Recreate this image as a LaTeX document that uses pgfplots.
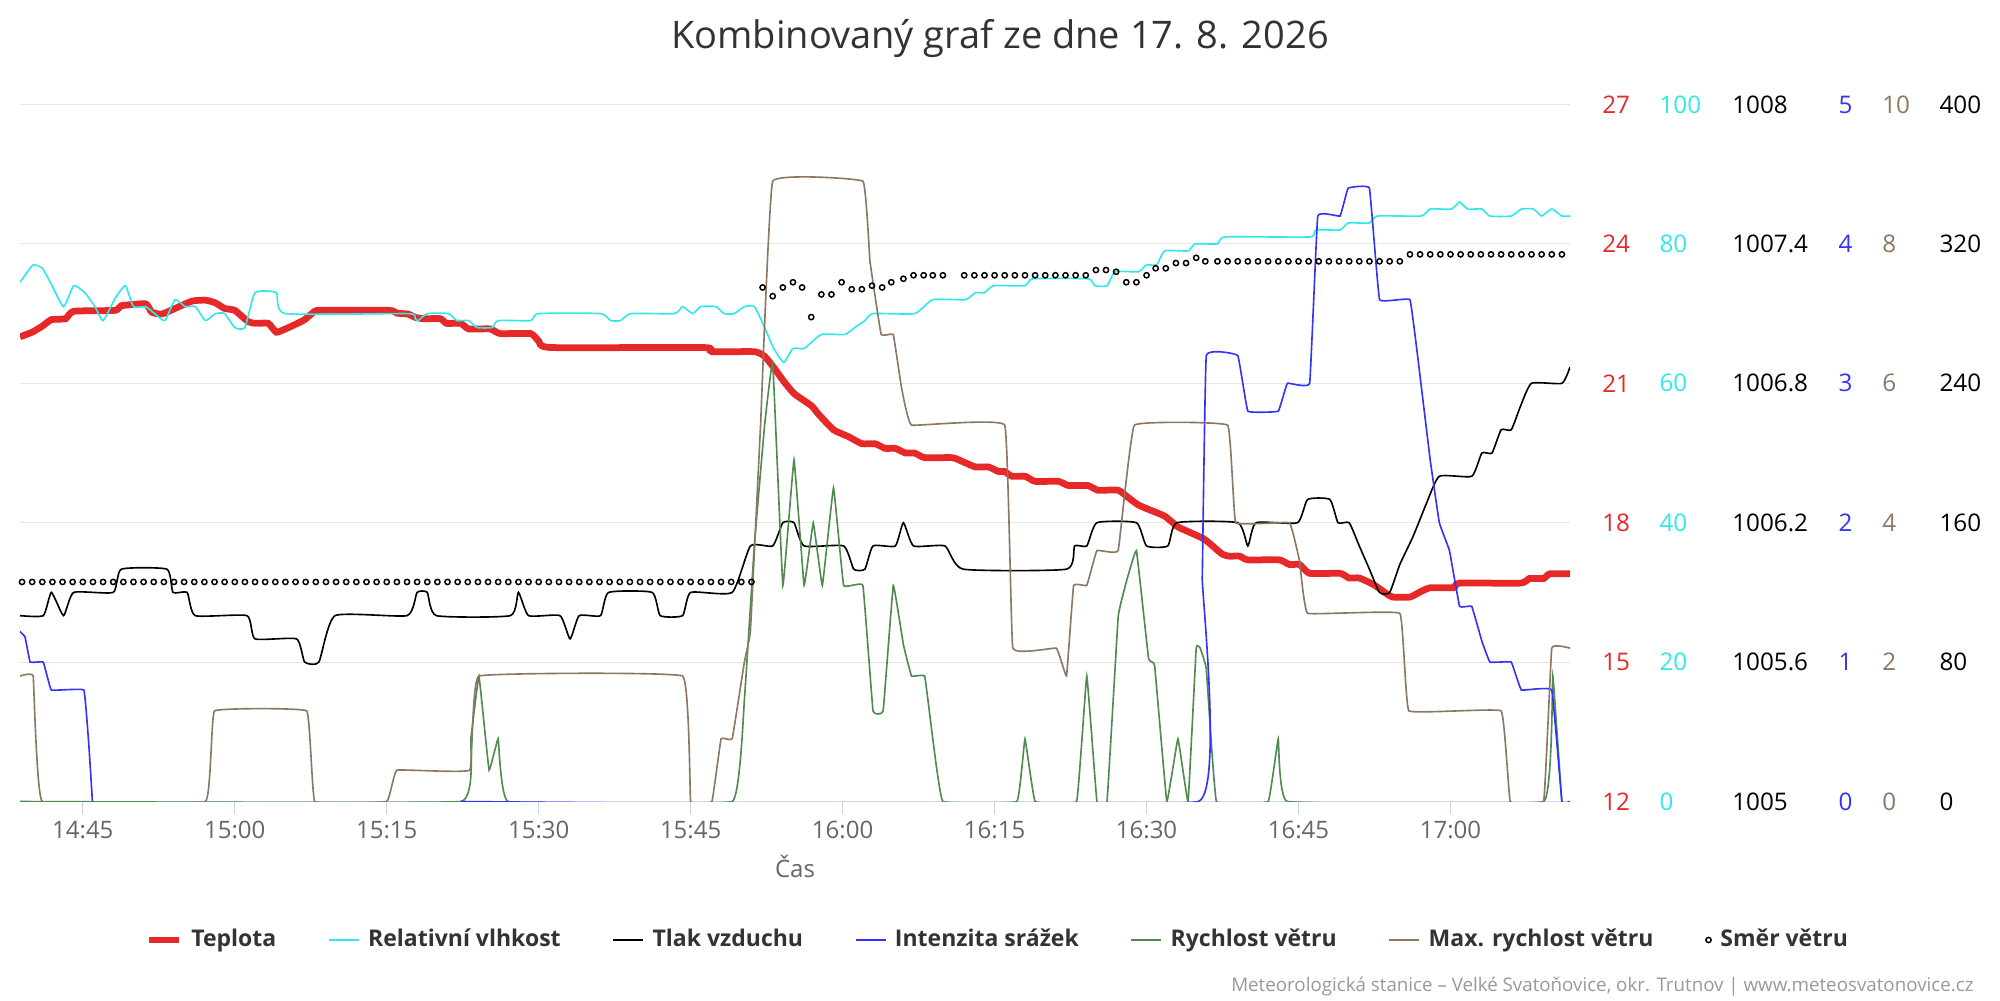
\documentclass[border=0pt]{standalone}
\usepackage{pgfplots}
\pgfplotsset{compat=1.18}
\usepackage{fontspec}
\setmainfont{Open Sans}
\definecolor{cTemp}{HTML}{E62828}
\definecolor{cHum}{HTML}{30E8EC}
\definecolor{cRain}{HTML}{3333F5}
\definecolor{cWind}{HTML}{4F8A4F}
\definecolor{cGust}{HTML}{8B7763}
\definecolor{cGrid}{HTML}{E6E6E6}
\definecolor{cAxis}{HTML}{CCD6EB}
\definecolor{cText}{HTML}{333333}
\definecolor{cLabel}{HTML}{666666}
\definecolor{cCredit}{HTML}{999999}

\pgfplotsset{
  base/.style={scale only axis, width=620pt, height=278.8pt,
    at={(8pt,79.4pt)}, anchor=south west, xmin=38.8, xmax=191.8, scaled y ticks=false},
  sec/.style={base, axis line style={draw=none}, xtick=\empty,
    ytick style={draw=none}, yticklabel pos=right,
    yticklabel style={anchor=west, inner sep=0pt, font=\fontsize{9.7}{11}\selectfont}},
  ln/.style={line width=0.65pt, smooth, tension=0.3},
  lns/.style={line width=0.65pt, smooth, tension=0.12},
}

\begin{document}
\begin{tikzpicture}
\useasboundingbox (0,0) rectangle (800pt,400pt);
% ---------- temperature (main axis) ----------
\begin{axis}[base, ymin=12, ymax=27,
  axis x line*=bottom, axis y line*=right,
  x axis line style={draw=cAxis, line width=0.4pt},
  y axis line style={draw=none},
  xtick={45,60,...,180},
  xticklabels={14:45,15:00,15:15,15:30,15:45,16:00,16:15,16:30,16:45,17:00},
  xtick align=outside, ytick align=inside,
  major tick length=5pt,
  xtick style={draw=cAxis, line width=0.4pt},
  xticklabel style={anchor=base, inner sep=0pt, yshift=-9.8pt, text=cLabel, font=\fontsize{9.6}{11}\selectfont},
  ytick={12,15,18,21,24,27}, yticklabels={12,15,18,21,24,27},
  ytick style={draw=none},
  yticklabel style={anchor=west, inner sep=0pt, xshift=12.7pt, text=cTemp, font=\fontsize{9.7}{11}\selectfont},
  ymajorgrids, grid style={cGrid, line width=0.4pt},
  legend columns=7,
  legend style={at={(0.6303,-0.1987)}, anchor=center, draw=none, fill=none,
    inner sep=0pt, nodes={inner sep=0pt, text=cText}, font=\bfseries\fontsize{9.2}{11}\selectfont,
    /tikz/every odd column/.append style={column sep=3.4pt},
    /tikz/every even column/.append style={column sep=20.7pt}},
  legend image code/.code={\draw[#1] (0pt,0pt) -- (12pt,0pt);},
]
\addplot[cTemp, line width=2.7pt, smooth, tension=0.3] coordinates {
(38.8,22.0) (40.0,22.1) (41.0,22.23) (41.9,22.37) (43.3,22.39) (44.1,22.55) (48.2,22.57) (48.8,22.67) (51.2,22.71) (51.8,22.53) (52.8,22.49) (54.1,22.61) (55.8,22.77) (57.1,22.79) (58.1,22.73) (59.0,22.61) (60.0,22.57) (61.3,22.33) (62.0,22.29) (63.3,22.29) (64.1,22.10) (65.0,22.17) (66.0,22.27) (66.9,22.37) (67.9,22.55) (68.6,22.57) (75.2,22.57) (76.0,22.51) (77.1,22.49) (77.8,22.42) (78.6,22.39) (80.3,22.39) (80.9,22.29) (82.3,22.29) (83.1,22.17) (85.2,22.17) (86.2,22.07) (89.2,22.07) (90.0,21.91) (91.2,21.77) (106.3,21.77) (107.1,21.68) (111.3,21.68) (112.3,21.58) (113.2,21.34) (114.2,21.04) (115.2,20.78) (116.9,20.52) (117.6,20.34) (119.1,20.0) (120.6,19.85) (121.9,19.70) (123.2,19.70) (124.2,19.60) (125.2,19.60) (126.2,19.50) (127.1,19.50) (128.1,19.40) (130.8,19.40) (131.7,19.33) (133.1,19.20) (134.4,19.20) (135.4,19.10) (136.0,19.10) (136.7,19.0) (138.0,19.0) (139.0,18.89) (141.3,18.89) (142.3,18.80) (144.2,18.80) (145.2,18.70) (147.2,18.70) (148.2,18.54) (149.2,18.38) (150.5,18.26) (151.8,18.14) (153.1,17.91) (154.1,17.81) (155.6,17.66) (156.2,17.56) (157.5,17.32) (158.2,17.28) (159.2,17.28) (160.0,17.20) (163.1,17.20) (164.1,17.10) (165.1,17.10) (166.1,16.91) (169.1,16.91) (170.0,16.81) (171.0,16.81) (172.4,16.67) (173.7,16.47) (174.3,16.40) (176.0,16.40) (177.0,16.51) (178.0,16.60) (180.3,16.60) (180.9,16.70) (186.9,16.70) (187.8,16.80) (189.2,16.80) (189.8,16.90) (191.8,16.90)
};
\addlegendentry{Teplota}
\addlegendimage{cHum, line width=0.65pt}\addlegendentry{Relativní vlhkost}
\addlegendimage{black, line width=0.65pt}\addlegendentry{Tlak vzduchu}
\addlegendimage{cRain, line width=0.65pt}\addlegendentry{Intenzita srážek}
\addlegendimage{cWind, line width=0.65pt}\addlegendentry{Rychlost větru}
\addlegendimage{cGust, line width=0.65pt}\addlegendentry{Max. rychlost větru}
\addlegendimage{black, legend image code/.code={\draw[black, line width=0.6pt] (6pt,0pt) circle (1.05pt);}}\addlegendentry{Směr větru}
\end{axis}
% ---------- humidity ----------
\begin{axis}[sec, ymin=0, ymax=100, ytick={0,20,40,60,80,100}, yticklabels={0,20,40,60,80,100},
  yticklabel style={xshift=35.6pt, text=cHum}]
\addplot[cHum, ln] coordinates {
(38.8,74.5) (39.3,75.5) (40.1,77) (41.0,76.5) (41.9,74.2) (43.1,71) (44.1,74) (45.2,73) (46.2,71) (47.0,69) (48.2,72.2) (49.2,74) (50.0,71) (51.2,71) (52.1,70) (53.1,69) (54.1,72) (55.1,71) (56.1,71) (57.1,69) (58.1,70) (59.0,70) (60.0,68) (61.0,68) (62.0,73) (64.1,73) (65.0,70) (77.1,70) (77.8,69.3) (78.1,69) (79.0,70) (81.1,70) (81.9,69) (83.1,69) (83.9,68) (85.4,68) (86.0,69) (89.2,69) (90.0,70) (96.1,70) (97.1,69) (98.1,69) (99.1,70) (103.4,70) (104.2,71) (105.2,70) (106.0,71) (107.5,71) (108.3,70) (109.3,70) (110.3,71) (111.3,71) (112.3,68) (113.2,65) (114.2,63) (115.1,65) (116.2,65) (117.9,67) (120.2,67) (121.2,68) (122.2,69) (123.0,70) (127.1,70) (128.9,72) (132.1,72) (133.1,73) (134.0,73) (134.9,74) (138.0,74) (138.8,75) (144.2,75) (144.9,74) (146.1,74) (146.9,76) (149.2,76) (150.0,77) (151.0,77) (151.8,79) (154.1,79) (154.8,80) (157.0,80) (157.8,81) (166.1,81) (166.7,82) (169.1,82) (169.9,83) (172.0,83) (172.8,84) (177.1,84) (178.0,85) (180.1,85) (180.9,86) (181.7,85) (183.1,85) (183.9,84) (186.0,84) (187.0,85) (188.2,85) (189.0,84) (190.0,85) (191.0,84) (191.8,84)
};
\end{axis}
% ---------- pressure ----------
\begin{axis}[sec, ymin=1005, ymax=1008, ytick={1005,1005.6,1006.2,1006.8,1007.4,1008},
  yticklabels={1005,1005.6,1006.2,1006.8,1007.4,1008},
  yticklabel style={xshift=64.7pt, text=black}]
\addplot[black, ln] coordinates {
(38.8,1005.8) (41.1,1005.8) (41.9,1005.9) (43.1,1005.8) (44.1,1005.9) (48.0,1005.9) (48.8,1006.0) (53.3,1006.0) (53.9,1005.9) (55.3,1005.9) (56.1,1005.8) (61.2,1005.8) (62.0,1005.7) (66.1,1005.7) (66.9,1005.6) (68.3,1005.6) (69.9,1005.8) (77.0,1005.8) (78.0,1005.9) (79.0,1005.9) (79.9,1005.8) (87.2,1005.8) (88.0,1005.9) (89.0,1005.8) (92.1,1005.8) (93.1,1005.7) (94.0,1005.8) (96.1,1005.8) (96.9,1005.9) (101.2,1005.9) (102.0,1005.8) (104.2,1005.8) (105.0,1005.9) (109.1,1005.9) (110.9,1006.1) (113.1,1006.1) (114.1,1006.2) (115.2,1006.2) (116.2,1006.1) (120.1,1006.1) (121.1,1006.0) (122.2,1006.0) (123.0,1006.1) (125.2,1006.1) (126.0,1006.2) (127.0,1006.1) (130.1,1006.1) (131.9,1006.0) (142.1,1006.0) (142.9,1006.1) (144.1,1006.1) (145.1,1006.2) (149.0,1006.2) (150.0,1006.1) (152.1,1006.1) (153.0,1006.2) (159.0,1006.2) (160.0,1006.1) (160.8,1006.2) (164.9,1006.2) (165.9,1006.3) (168.1,1006.3) (168.9,1006.2) (170.0,1006.2) (171.0,1006.1) (172.0,1006.0) (173.0,1005.9) (174.0,1005.9) (175.0,1006.02) (176.3,1006.14) (177.6,1006.28) (178.9,1006.4) (182.1,1006.4) (183.1,1006.5) (184.1,1006.5) (185.0,1006.6) (186.0,1006.6) (186.9,1006.7) (188.0,1006.8) (191.0,1006.8) (191.8,1006.87)
};
\end{axis}
% ---------- wind speed ----------
\begin{axis}[sec, ymin=0, ymax=10, ytick=\empty]
\addplot[cWind, lns] coordinates {
(38.8,0) (82.3,0) (83.3,0.9) (84.1,1.8) (85.1,0.45) (86.0,0.9) (87.0,0) (109.1,0) (110.3,1.45) (111.3,3.7) (112.3,5.4) (113.1,6.3) (114.1,3.1) (115.2,4.9) (116.2,3.1) (117.1,4.0) (118.0,3.1) (119.1,4.5) (120.1,3.1) (122.0,3.1) (123.0,1.3) (124.0,1.3) (125.0,3.1) (126.0,2.25) (126.8,1.8) (128.1,1.8) (128.9,0.9) (129.9,0) (137.2,0) (138.0,0.9) (139.0,0) (143.1,0) (144.1,1.8) (145.1,0) (146.1,0) (147.2,2.65) (148.0,3.15) (149.0,3.6) (150.2,2.05) (150.8,1.95) (152.0,0) (153.1,0.9) (154.1,0) (154.9,2.2) (155.3,2.2) (155.9,1.9) (156.9,0) (162.0,0) (163.0,0.9) (163.9,0) (189.2,0) (190.1,1.8) (191.0,0) (191.8,0)
};
\end{axis}
% ---------- rain intensity ----------
\begin{axis}[sec, ymin=0, ymax=5, ytick={0,1,2,3,4,5}, yticklabels={0,1,2,3,4,5},
  yticklabel style={xshift=107.2pt, text=cRain}]
\addplot[cRain, lns] coordinates {
(38.8,1.22) (39.3,1.18) (39.8,1.0) (41.1,1.0) (41.9,0.8) (45.1,0.8) (45.6,0.4) (45.95,0)
};
\addplot[cRain, lns] coordinates {
(82.3,0) (155.1,0) (155.5,1.6) (155.9,3.2) (159.0,3.2) (160.0,2.8) (163.0,2.8) (163.9,3.0) (166.1,3.0) (166.9,4.2) (169.1,4.2) (169.9,4.4) (172.0,4.4) (173.0,3.6) (176.0,3.6) (177.0,3.05) (178.0,2.45) (178.9,2.0) (179.9,1.8) (180.9,1.4) (182.1,1.4) (183.1,1.15) (183.9,1.0) (186.0,1.0) (187.0,0.8) (190.0,0.8) (191.0,0) (191.8,0)
};
\end{axis}
% ---------- max wind speed ----------
\begin{axis}[sec, ymin=0, ymax=10, ytick={0,2,4,6,8,10}, yticklabels={0,2,4,6,8,10},
  yticklabel style={xshift=124.7pt, text=cGust}]
\addplot[cGust, lns] coordinates {
(38.8,1.8) (40.1,1.8) (41.0,0) (57.1,0) (58.0,1.3) (67.1,1.3) (67.9,0) (75.0,0) (76.0,0.45) (83.2,0.45) (84.1,1.8) (104.2,1.8) (105.0,0) (107.1,0) (108.0,0.9) (109.1,0.9) (110.3,2.0) (110.9,2.45) (111.9,5.4) (113.1,8.9) (122.0,8.9) (122.7,7.75) (123.8,6.7) (125.0,6.7) (125.8,5.95) (126.8,5.4) (136.0,5.4) (136.8,2.2) (141.1,2.2) (142.1,1.8) (142.8,3.1) (144.1,3.1) (145.1,3.6) (147.2,3.6) (148.8,5.4) (158.0,5.4) (158.8,4.0) (164.1,4.0) (165.1,3.45) (165.9,2.7) (175.0,2.7) (175.9,1.3) (185.0,1.3) (185.9,0) (189.2,0) (190.0,2.2) (191.8,2.2)
};
\end{axis}
% ---------- wind direction ----------
\begin{axis}[sec, ymin=0, ymax=400, ytick={0,80,160,240,320,400}, yticklabels={0,80,160,240,320,400},
  yticklabel style={xshift=147.6pt, text=black}]
\addplot[only marks, mark=o, mark size=1.05pt, mark options={line width=0.6pt, black}] coordinates {
(39,126) (40,126) (41,126) (42,126) (43,126) (44,126) (45,126) (46,126) (47,126) (48,126) (49,126) (50,126) (51,126) (52,126) (53,126) (54,126) (55,126) (56,126) (57,126) (58,126) (59,126) (60,126) (61,126) (62,126) (63,126) (64,126) (65,126) (66,126) (67,126) (68,126) (69,126) (70,126) (71,126) (72,126) (73,126) (74,126) (75,126) (76,126) (77,126) (78,126) (79,126) (80,126) (81,126) (82,126) (83,126) (84,126) (85,126) (86,126) (87,126) (88,126) (89,126) (90,126) (91,126) (92,126) (93,126) (94,126) (95,126) (96,126) (97,126) (98,126) (99,126) (100,126) (101,126) (102,126) (103,126) (104,126) (105,126) (106,126) (107,126) (108,126) (109,126) (110,126) (111,126)
(112.1,295) (113.1,290) (114.1,295) (115.1,298) (116.0,295) (116.9,278) (117.9,291) (118.9,291) (119.9,298) (120.9,294) (121.9,294) (122.9,296) (123.9,295) (124.8,298) (126.0,300) (127.0,302) (128.0,302) (128.9,302) (129.9,302)
(132,302) (133,302) (134,302) (135,302) (136,302) (137,302) (138,302) (139,302) (140,302) (141,302) (142,302) (143,302) (144,302)
(145.0,305) (146.0,305) (147.0,304) (148.0,298) (149.0,298) (150.0,302) (150.9,306) (151.9,306) (152.9,309) (153.9,309) (154.9,312) (155.8,310)
(157,310) (158,310) (159,310) (160,310) (161,310) (162,310) (163,310) (164,310) (165,310) (166,310) (167,310) (168,310) (169,310) (170,310) (171,310) (172,310) (173,310) (174,310) (175,310)
(176,314) (177,314) (178,314) (179,314) (180,314) (181,314) (182,314) (183,314) (184,314) (185,314) (186,314) (187,314) (188,314) (189,314) (190,314) (191,314)
};
\end{axis}
% ---------- texts ----------
\node[anchor=base, font=\fontsize{15.2}{18}\selectfont, text=cText, inner sep=0pt] at (400pt,380.4pt) {Kombinovaný graf ze dne 17. 8. 2026};
\node[anchor=base, font=\fontsize{9.6}{11}\selectfont, text=cLabel, inner sep=0pt] at (318pt,49pt) {Čas};
\node[anchor=base east, font=\fontsize{7.5}{9}\selectfont, text=cCredit, inner sep=0pt] at (789.6pt,3.6pt) {Meteorologická stanice – Velké Svatoňovice, okr. Trutnov | www.meteosvatonovice.cz};
\end{tikzpicture}
\end{document}
